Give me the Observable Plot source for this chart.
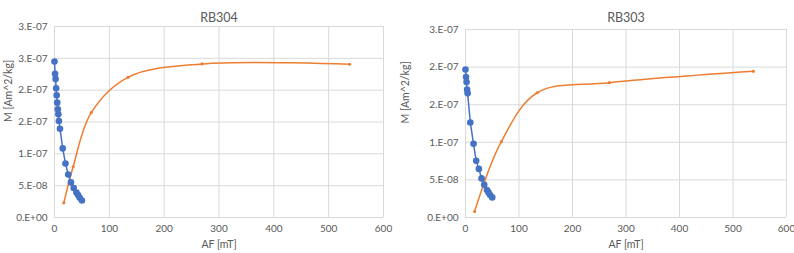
<!DOCTYPE html>
<html>
<head>
<meta charset="utf-8">
<script src="https://cdn.jsdelivr.net/npm/d3@7"></script>
<script src="https://cdn.jsdelivr.net/npm/@observablehq/plot@0.6"></script>
<style>
  html, body { margin: 0; padding: 0; background: #fff; }
  #wrap { position: relative; width: 794px; height: 253px; overflow: hidden; }
  .chart { position: absolute; top: 0; }
</style>
</head>
<body>
<div id="wrap">
  <div class="chart" id="left" style="left:0px"></div>
  <div class="chart" id="right" style="left:397px"></div>
</div>
<script>
// ---- RB304 (left) ----
const rb304Title = "RB304";
const rb304AfAF = [0, 1, 2, 3, 4, 5, 6, 7, 8, 10, 15, 20, 25, 30, 35, 40, 43, 46, 50];
const rb304AfM = [2.449e-7, 2.256e-7, 2.177e-7, 2.029e-7, 1.919e-7, 1.804e-7, 1.699e-7, 1.620e-7, 1.516e-7, 1.395e-7, 1.085e-7, 0.849e-7, 0.676e-7, 0.551e-7, 0.462e-7, 0.393e-7, 0.352e-7, 0.310e-7, 0.267e-7];
const rb304IrmAF = [17, 34, 67, 134, 269, 538];
const rb304IrmM = [0.231e-7, 0.797e-7, 1.647e-7, 2.202e-7, 2.412e-7, 2.407e-7];
const rb304YTicks = [0, 5e-8, 1e-7, 1.5e-7, 2e-7, 2.5e-7, 3e-7];
const rb304YLabels = ["0.E+00", "5.E-08", "1.E-07", "2.E-07", "2.E-07", "3.E-07", "3.E-07"];

// ---- RB303 (right) ----
const rb303Title = "RB303";
const rb303AfAF = [0, 1, 2, 3, 4, 9, 15, 20, 25, 30, 35, 40, 43, 46, 50];
const rb303AfM = [1.967e-7, 1.868e-7, 1.802e-7, 1.700e-7, 1.651e-7, 1.264e-7, 0.980e-7, 0.753e-7, 0.646e-7, 0.520e-7, 0.436e-7, 0.366e-7, 0.334e-7, 0.299e-7, 0.267e-7];
const rb303IrmAF = [17, 67, 134, 269, 538];
const rb303IrmM = [0.080e-7, 1.010e-7, 1.659e-7, 1.793e-7, 1.944e-7];
const rb303YTicks = [0, 5e-8, 1e-7, 1.5e-7, 2e-7, 2.5e-7];
const rb303YLabels = ["0.E+00", "5.E-08", "1.E-07", "2.E-07", "2.E-07", "3.E-07"];

const xTicks = [0, 100, 200, 300, 400, 500, 600];
const xLabel = "AF [mT]";
const yLabel = "M [Am^2/kg]";

const BLUE = "#4472C4", ORANGE = "#ED7D31", GRID = "#d9d9d9", TXT = "#595959";

function chart({title, afAF, afM, irmAF, irmM, yTicks, yLabels, margins}) {
  const af = afAF.map((x, i) => ({x, y: afM[i]}));
  const irm = irmAF.map((x, i) => ({x, y: irmM[i]}));
  const labelOf = new Map(yTicks.map((t, i) => [t, yLabels[i]]));
  return Plot.plot({
    width: 397, height: 253,
    marginLeft: margins.left, marginRight: margins.right,
    marginTop: margins.top, marginBottom: margins.bottom,
    style: {fontFamily: "Lato, 'Open Sans', sans-serif", fontSize: "10px", color: TXT, background: "#fff"},
    x: {domain: [0, 600], ticks: xTicks, tickSize: 0, tickPadding: 7, label: null},
    y: {domain: [0, yTicks[yTicks.length - 1]], ticks: yTicks, tickSize: 0, tickPadding: 7,
        tickFormat: d => labelOf.get(d), label: null},
    marks: [
      Plot.gridX(xTicks, {stroke: GRID, strokeOpacity: 1}),
      Plot.gridY(yTicks, {stroke: GRID, strokeOpacity: 1}),
      Plot.ruleY([0], {stroke: GRID, strokeOpacity: 1}),
      Plot.line(irm, {x: "x", y: "y", stroke: ORANGE, strokeWidth: 1.5, curve: "catmull-rom"}),
      Plot.dot(irm, {x: "x", y: "y", fill: ORANGE, r: 1.6}),
      Plot.line(af, {x: "x", y: "y", stroke: BLUE, strokeWidth: 1.5}),
      Plot.dot(af, {x: "x", y: "y", fill: BLUE, r: 3.3}),
      Plot.text([title], {text: d => d, frameAnchor: "top", dy: -margins.top + 13, fontSize: 12.5, fill: TXT}),
      Plot.text([xLabel], {text: d => d, frameAnchor: "bottom", dy: 30, fontSize: 10.5, fill: TXT}),
      Plot.text([yLabel], {text: d => d, frameAnchor: "left", dx: -margins.left + 8, rotate: -90, fontSize: 10.5, fill: TXT})
    ]
  });
}

document.getElementById("left").appendChild(chart({
  title: rb304Title, afAF: rb304AfAF, afM: rb304AfM, irmAF: rb304IrmAF, irmM: rb304IrmM,
  yTicks: rb304YTicks, yLabels: rb304YLabels,
  margins: {left: 54, right: 14, top: 26, bottom: 36}
}));
document.getElementById("right").appendChild(chart({
  title: rb303Title, afAF: rb303AfAF, afM: rb303AfM, irmAF: rb303IrmAF, irmM: rb303IrmM,
  yTicks: rb303YTicks, yLabels: rb303YLabels,
  margins: {left: 68, right: 8, top: 29, bottom: 36}
}));
</script>
</body>
</html>
